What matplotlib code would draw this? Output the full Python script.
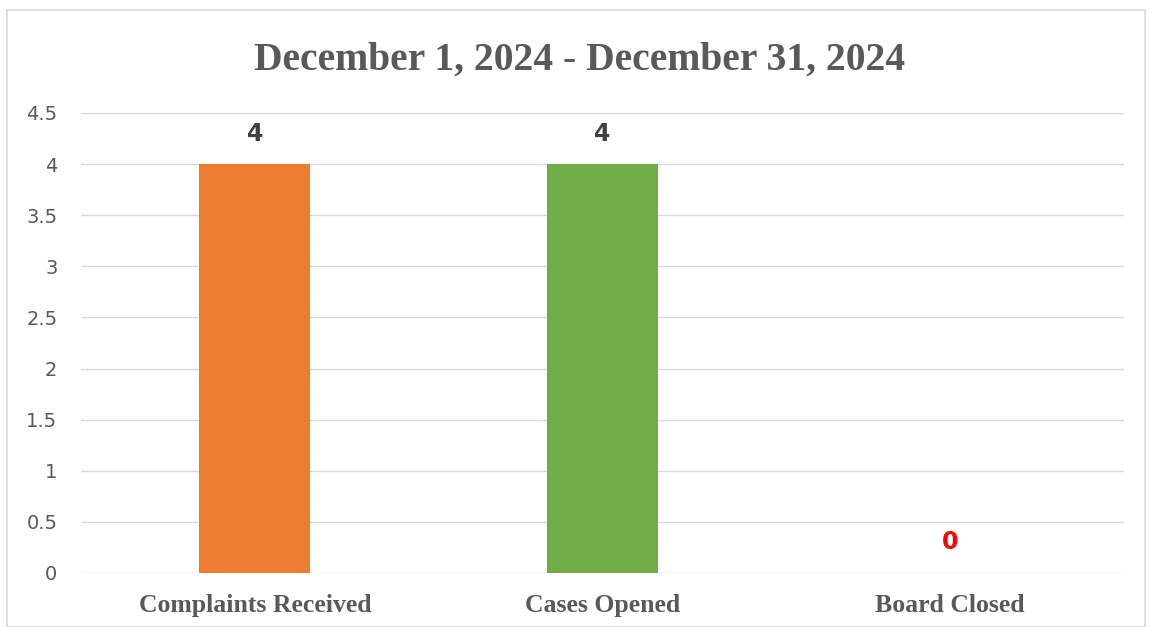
import matplotlib
matplotlib.use("Agg")
import matplotlib.pyplot as plt
from matplotlib.patches import Rectangle

categories = ["Complaints Received", "Cases Opened", "Board Closed"]
values = [4, 4, 0]
bar_colors = ["#ED7D31", "#70AD47", "#5B9BD5"]
label_colors = ["#404040", "#404040", "#FF0000"]
yticks = [0, 0.5, 1, 1.5, 2, 2.5, 3, 3.5, 4, 4.5]
ytick_labels = ["0", "0.5", "1", "1.5", "2", "2.5", "3", "3.5", "4", "4.5"]
title = "December 1, 2024 - December 31, 2024"

fig = plt.figure(figsize=(11.49, 6.27), dpi=100)
ax = fig.add_axes([81/1149, 54/627, (1124-81)/1149, (573-113)/627])

x = list(range(len(categories)))
bars = ax.bar(x, values, width=0.32, color=bar_colors, zorder=3)
ax.set_xlim(-0.5, 2.5)
ax.set_ylim(0, 4.5)
ax.set_yticks(yticks)
ax.set_yticklabels(ytick_labels, fontsize=14, color="#595959", family="DejaVu Sans")
ax.set_xticks(x)
ax.set_xticklabels(categories, fontsize=18.5, color="#595959", family="Liberation Serif", fontweight="bold")
ax.tick_params(axis="both", length=0)
ax.tick_params(axis="x", pad=15)
ax.tick_params(axis="y", pad=17)
ax.grid(axis="y", color="#D9D9D9", linewidth=1, zorder=0)
for s in ax.spines.values():
    s.set_visible(False)

for xi, v, c in zip(x, values, label_colors):
    ax.annotate(str(v), (xi, v), xytext=(0, 22), textcoords="offset points",
                ha="center", va="center", fontsize=17, fontweight="bold",
                color=c, family="DejaVu Sans")

fig.text(580/1149, 1 - 60/627, title, ha="center", va="center", fontsize=28.5,
         fontweight="bold", color="#595959", family="Liberation Serif")

fig.patches.append(Rectangle((7/1149, 0), (1145-7)/1149, 1 - 10/627, transform=fig.transFigure,
                             fill=False, edgecolor="#D9D9D9", linewidth=1.2))

fig.savefig("out.png", dpi=100, facecolor="white")
